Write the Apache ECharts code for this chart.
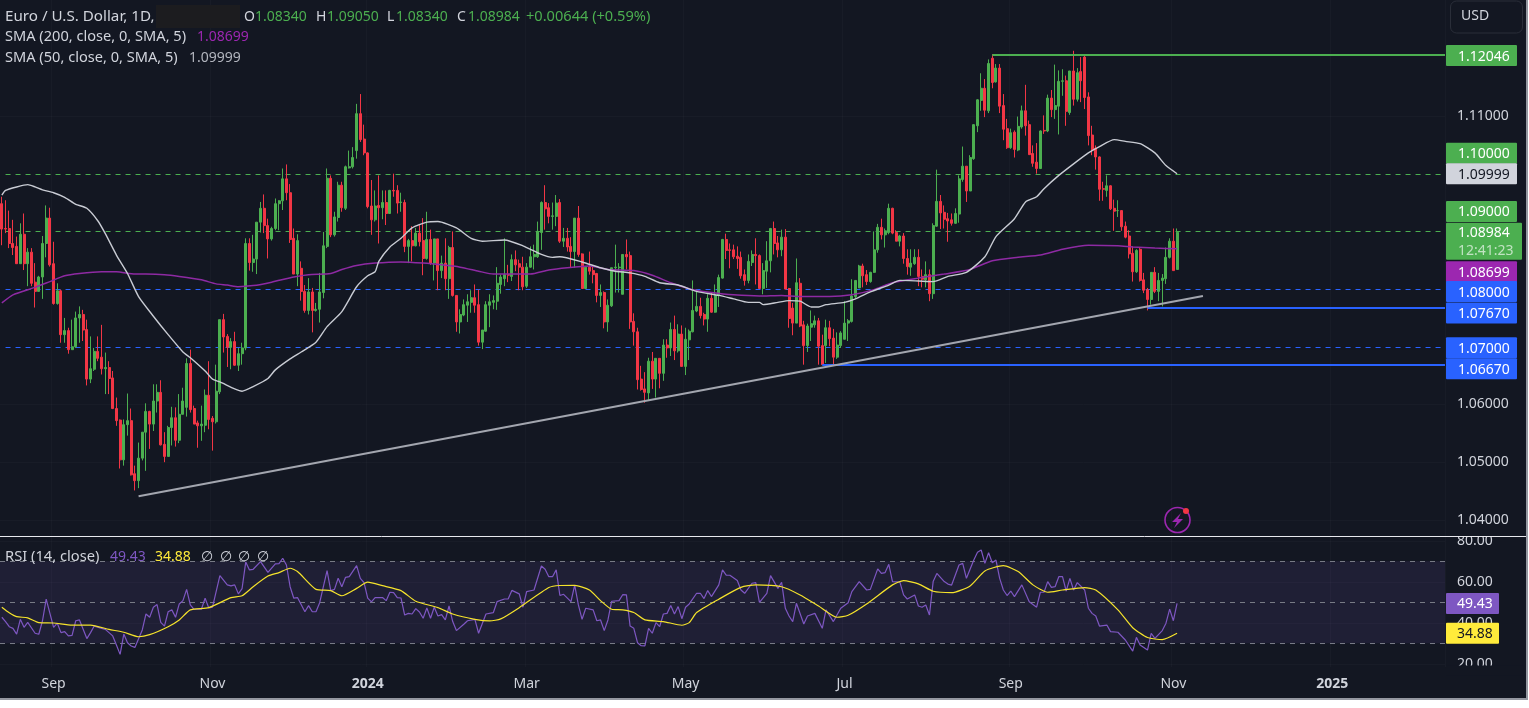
<!DOCTYPE html>
<html><head><meta charset="utf-8">
<style>
html,body{margin:0;padding:0;background:#fff;overflow:hidden}
#frame{position:absolute;left:0;top:0;width:1526px;height:698px;background:#131722;border-right:2px solid #9598a1;border-bottom:2px solid #9598a1}
#chart{width:1526px;height:698px}
</style>
<script src="https://cdn.jsdelivr.net/npm/echarts@6/dist/echarts.min.js"></script>
</head><body><div id="frame"><div id="chart"></div></div>
<script>
// rows: open, close, low, high
const candlesA = [
[1.0948,1.0904,1.0876,1.0960],[1.0905,1.0904,1.0897,1.0954],[1.0905,1.0879,1.0871,1.0936],[1.0879,1.0872,1.0859,1.0920],[1.0874,1.0844,1.0844,1.0891],[1.0844,1.0895,1.0844,1.0914],[1.0895,1.0844,1.0833,1.0931],[1.0844,1.0864,1.0805,1.0871],[1.0864,1.0810,1.0805,1.0871],[1.0812,1.0796,1.0768,1.0845],
[1.0796,1.0821,1.0796,1.0823],[1.0821,1.0879,1.0783,1.0892],[1.0879,1.0923,1.0855,1.0945],[1.0923,1.0842,1.0839,1.0941],[1.0844,1.0775,1.0773,1.0882],[1.0775,1.0797,1.0773,1.0810],[1.0797,1.0721,1.0707,1.0799],[1.0721,1.0728,1.0707,1.0750],[1.0728,1.0695,1.0688,1.0733],[1.0695,1.0700,1.0695,1.0747],
[1.0700,1.0750,1.0698,1.0761],[1.0750,1.0756,1.0707,1.0770],[1.0756,1.0729,1.0710,1.0764],[1.0730,1.0644,1.0633,1.0747],[1.0644,1.0662,1.0637,1.0718],[1.0661,1.0692,1.0658,1.0698],[1.0692,1.0680,1.0675,1.0718],[1.0682,1.0662,1.0652,1.0738],[1.0662,1.0664,1.0618,1.0690],[1.0664,1.0645,1.0618,1.0675],
[1.0646,1.0593,1.0592,1.0658],[1.0593,1.0572,1.0563,1.0612],[1.0573,1.0504,1.0489,1.0574],[1.0504,1.0565,1.0494,1.0574],[1.0565,1.0572,1.0546,1.0619],[1.0572,1.0478,1.0477,1.0593],[1.0480,1.0468,1.0451,1.0494],[1.0468,1.0507,1.0455,1.0534],[1.0507,1.0552,1.0503,1.0552],[1.0552,1.0588,1.0485,1.0602],
[1.0588,1.0566,1.0523,1.0589],[1.0566,1.0606,1.0554,1.0635],[1.0606,1.0621,1.0586,1.0635],[1.0621,1.0530,1.0529,1.0642],[1.0531,1.0510,1.0500,1.0552],[1.0510,1.0560,1.0510,1.0563],[1.0560,1.0577,1.0529,1.0596],[1.0577,1.0538,1.0527,1.0595],[1.0538,1.0583,1.0533,1.0618],[1.0583,1.0606,1.0583,1.0629],
[1.0595,1.0671,1.0579,1.0680],[1.0671,1.0591,1.0586,1.0695],[1.0593,1.0566,1.0566,1.0598],[1.0568,1.0563,1.0525,1.0572],[1.0563,1.0566,1.0537,1.0598],[1.0564,1.0616,1.0552,1.0626],[1.0616,1.0574,1.0557,1.0675],[1.0576,1.0570,1.0520,1.0580],[1.0570,1.0623,1.0567,1.0669],[1.0622,1.0747,1.0618,1.0747],
[1.0747,1.0717,1.0690,1.0757],[1.0718,1.0699,1.0665,1.0722],[1.0699,1.0709,1.0661,1.0715],[1.0709,1.0668,1.0667,1.0726],[1.0668,1.0688,1.0658,1.0698],[1.0688,1.0698,1.0669,1.0707],[1.0698,1.0879,1.0694,1.0888],[1.0879,1.0846,1.0832,1.0888],[1.0846,1.0852,1.0830,1.0894],[1.0852,1.0916,1.0826,1.0916],
[1.0916,1.0940,1.0898,1.0951],[1.0940,1.0910,1.0897,1.0964],[1.0910,1.0887,1.0853,1.0922],[1.0887,1.0905,1.0884,1.0908],[1.0905,1.0948,1.0902,1.0957],[1.0948,1.0953,1.0902,1.0954],[1.0953,1.0991,1.0937,1.1009],[1.0991,1.0967,1.0954,1.1016],[1.0967,1.0886,1.0880,1.0982],[1.0888,1.0826,1.0826,1.0905],
[1.0826,1.0884,1.0805,1.0895],[1.0836,1.0796,1.0780,1.0848],[1.0796,1.0763,1.0759,1.0807],[1.0763,1.0795,1.0756,1.0819],[1.0795,1.0763,1.0725,1.0802],[1.0763,1.0765,1.0761,1.0776],[1.0765,1.0795,1.0742,1.0828],[1.0794,1.0875,1.0784,1.0899],[1.0874,1.0992,1.0871,1.1009],[1.0992,1.0894,1.0890,1.0997],
[1.0894,1.0925,1.0891,1.0934],[1.0924,1.0980,1.0917,1.0986],[1.0980,1.0941,1.0934,1.0986],[1.0940,1.1012,1.0937,1.1014],[1.1010,1.1012,1.1009,1.1040],[1.1012,1.1028,1.1009,1.1046],[1.1040,1.1104,1.1026,1.1121],[1.1104,1.1059,1.1055,1.1138],[1.1060,1.1036,1.1032,1.1085],[1.1036,1.0943,1.0940,1.1037],
[1.0944,1.0920,1.0894,1.0989],[1.0920,1.0944,1.0917,1.0971],[1.0945,1.0941,1.0879,1.0997],[1.0941,1.0950,1.0921,1.0971],[1.0950,1.0931,1.0911,1.0971],[1.0931,1.0971,1.0931,1.0972],[1.0971,1.0970,1.0960,1.1000],[1.0971,1.0949,1.0931,1.0980]
];
const candlesB = [
[1.0950,1.0951,1.0934,1.0967],[1.0950,1.0874,1.0864,1.0955],[1.0874,1.0884,1.0845,1.0887],[1.0884,1.0875,1.0848,1.0909],[1.0875,1.0897,1.0874,1.0906],[1.0897,1.0882,1.0874,1.0911],[1.0884,1.0853,1.0824,1.0923],[1.0853,1.0886,1.0851,1.0934],[1.0886,1.0845,1.0842,1.0903],[1.0845,1.0887,1.0815,1.0887],
[1.0887,1.0832,1.0798,1.0887],[1.0832,1.0845,1.0819,1.0858],[1.0845,1.0818,1.0798,1.0888],[1.0818,1.0872,1.0783,1.0875],[1.0872,1.0789,1.0787,1.0900],[1.0789,1.0743,1.0726,1.0789],[1.0743,1.0756,1.0723,1.0765],[1.0755,1.0773,1.0753,1.0782],[1.0772,1.0778,1.0743,1.0791],[1.0777,1.0785,1.0759,1.0798],
[1.0785,1.0772,1.0759,1.0808],[1.0773,1.0708,1.0702,1.0799],[1.0708,1.0729,1.0696,1.0729],[1.0727,1.0773,1.0726,1.0779],[1.0772,1.0778,1.0734,1.0791],[1.0777,1.0780,1.0765,1.0789],[1.0779,1.0810,1.0764,1.0838],[1.0808,1.0821,1.0792,1.0825],[1.0818,1.0825,1.0805,1.0888],[1.0825,1.0824,1.0812,1.0842],
[1.0822,1.0851,1.0814,1.0860],[1.0851,1.0842,1.0831,1.0867],[1.0844,1.0838,1.0798,1.0851],[1.0838,1.0804,1.0798,1.0856],[1.0805,1.0838,1.0802,1.0845],[1.0838,1.0856,1.0837,1.0874],[1.0856,1.0860,1.0834,1.0877],[1.0856,1.0900,1.0854,1.0917],[1.0898,1.0950,1.0868,1.0952],[1.0950,1.0939,1.0903,1.0980],
[1.0941,1.0926,1.0914,1.0949],[1.0926,1.0927,1.0903,1.0950],[1.0926,1.0949,1.0909,1.0963],[1.0950,1.0883,1.0880,1.0956],[1.0883,1.0888,1.0873,1.0906],[1.0888,1.0873,1.0865,1.0906],[1.0874,1.0865,1.0837,1.0890],[1.0865,1.0923,1.0837,1.0923],[1.0923,1.0860,1.0856,1.0944],[1.0861,1.0801,1.0801,1.0862],
[1.0801,1.0838,1.0801,1.0839],[1.0838,1.0831,1.0825,1.0865],[1.0832,1.0825,1.0810,1.0839],[1.0827,1.0789,1.0777,1.0828],[1.0789,1.0794,1.0769,1.0808],[1.0794,1.0743,1.0732,1.0796],[1.0743,1.0772,1.0726,1.0782],[1.0771,1.0837,1.0769,1.0837],[1.0837,1.0838,1.0794,1.0877],[1.0837,1.0838,1.0794,1.0845],
[1.0791,1.0860,1.0791,1.0860],[1.0860,1.0856,1.0834,1.0886],[1.0858,1.0743,1.0731,1.0865],[1.0744,1.0726,1.0702,1.0758],[1.0726,1.0643,1.0626,1.0733],[1.0644,1.0626,1.0624,1.0667],[1.0627,1.0621,1.0603,1.0656],[1.0620,1.0675,1.0608,1.0681],[1.0675,1.0644,1.0627,1.0691],[1.0644,1.0680,1.0612,1.0680],
[1.0680,1.0654,1.0628,1.0680],[1.0654,1.0703,1.0641,1.0713],[1.0703,1.0698,1.0681,1.0713],[1.0698,1.0730,1.0684,1.0742],[1.0730,1.0693,1.0677,1.0754],[1.0693,1.0722,1.0690,1.0739],[1.0722,1.0666,1.0666,1.0737],[1.0666,1.0713,1.0651,1.0733],[1.0712,1.0727,1.0677,1.0730],[1.0726,1.0763,1.0725,1.0815],
[1.0762,1.0770,1.0760,1.0799],[1.0770,1.0754,1.0749,1.0785],[1.0756,1.0748,1.0737,1.0759],[1.0748,1.0784,1.0726,1.0791],[1.0784,1.0760,1.0759,1.0794],[1.0760,1.0789,1.0759,1.0808],[1.0789,1.0820,1.0769,1.0825],[1.0819,1.0886,1.0818,1.0887],[1.0886,1.0867,1.0852,1.0896],[1.0868,1.0867,1.0836,1.0879],
[1.0868,1.0856,1.0852,1.0877],[1.0857,1.0853,1.0835,1.0874],[1.0855,1.0823,1.0818,1.0865],[1.0825,1.0815,1.0806,1.0834],[1.0815,1.0848,1.0810,1.0860],[1.0846,1.0860,1.0840,1.0867],[1.0860,1.0858,1.0808,1.0888],[1.0858,1.0801,1.0801,1.0860],[1.0801,1.0832,1.0791,1.0845],[1.0831,1.0849,1.0802,1.0883],
[1.0849,1.0905,1.0829,1.0906],[1.0905,1.0879,1.0860,1.0917],[1.0880,1.0868,1.0855,1.0892],[1.0868,1.0890,1.0857,1.0903],[1.0890,1.0800,1.0800,1.0904],[1.0801,1.0749,1.0733,1.0802],[1.0767,1.0741,1.0720,1.0776],[1.0741,1.0811,1.0741,1.0853]
];
const candlesC = [
[1.0810,1.0736,1.0734,1.0819],[1.0738,1.0702,1.0669,1.0745],[1.0702,1.0736,1.0691,1.0740],[1.0734,1.0740,1.0710,1.0763],[1.0738,1.0745,1.0733,1.0754],[1.0745,1.0701,1.0669,1.0750],[1.0702,1.0669,1.0669,1.0721],[1.0702,1.0733,1.0672,1.0747],[1.0733,1.0714,1.0701,1.0745],[1.0715,1.0682,1.0668,1.0731],
[1.0682,1.0703,1.0679,1.0725],[1.0702,1.0724,1.0698,1.0727],[1.0713,1.0741,1.0713,1.0779],[1.0741,1.0745,1.0710,1.0748],[1.0744,1.0788,1.0742,1.0817],[1.0787,1.0815,1.0784,1.0815],[1.0802,1.0840,1.0802,1.0842],[1.0840,1.0823,1.0803,1.0844],[1.0825,1.0813,1.0807,1.0833],[1.0813,1.0829,1.0811,1.0830],
[1.0829,1.0868,1.0828,1.0900],[1.0868,1.0907,1.0863,1.0913],[1.0907,1.0894,1.0886,1.0922],[1.0894,1.0901,1.0872,1.0905],[1.0898,1.0940,1.0895,1.0948],[1.0940,1.0897,1.0895,1.0941],[1.0898,1.0883,1.0883,1.0902],[1.0883,1.0892,1.0874,1.0894],[1.0892,1.0853,1.0844,1.0897],[1.0853,1.0839,1.0825,1.0869],
[1.0838,1.0845,1.0823,1.0869],[1.0844,1.0855,1.0842,1.0869],[1.0855,1.0822,1.0805,1.0869],[1.0822,1.0817,1.0803,1.0834],[1.0816,1.0825,1.0803,1.0848],[1.0825,1.0792,1.0779,1.0834],[1.0792,1.0910,1.0783,1.0914],[1.0909,1.0952,1.0908,1.1007],[1.0952,1.0932,1.0904,1.0963],[1.0933,1.0921,1.0905,1.0945],
[1.0922,1.0918,1.0882,1.0932],[1.0920,1.0914,1.0910,1.0931],[1.0914,1.0931,1.0913,1.0940],[1.0930,1.0991,1.0915,1.0997],[1.0990,1.1013,1.0986,1.1047],[1.1013,1.0970,1.0951,1.1013],[1.0970,1.1028,1.0970,1.1032],[1.1026,1.1085,1.1024,1.1086],[1.1083,1.1128,1.1072,1.1129],[1.1127,1.1148,1.1109,1.1174],
[1.1148,1.1110,1.1098,1.1164],[1.1109,1.1191,1.1105,1.1198],[1.1200,1.1158,1.1148,1.1207],[1.1159,1.1183,1.1158,1.1190],[1.1183,1.1117,1.1105,1.1190],[1.1118,1.1077,1.1058,1.1138],[1.1078,1.1045,1.1043,1.1095],[1.1045,1.1071,1.1043,1.1078],[1.1072,1.1042,1.1028,1.1075],[1.1041,1.1082,1.1039,1.1099],
[1.1081,1.1109,1.1078,1.1118],[1.1109,1.1083,1.1066,1.1154],[1.1085,1.1033,1.1033,1.1092],[1.1035,1.1018,1.1012,1.1049],[1.1020,1.1009,1.1000,1.1053],[1.1009,1.1074,1.1008,1.1075],[1.1075,1.1074,1.1069,1.1101],[1.1074,1.1131,1.1072,1.1137],[1.1131,1.1111,1.1098,1.1145],[1.1111,1.1118,1.1095,1.1189],
[1.1117,1.1160,1.1068,1.1179],[1.1160,1.1161,1.1135,1.1181],[1.1161,1.1108,1.1083,1.1170],[1.1106,1.1178,1.1102,1.1178],[1.1178,1.1129,1.1118,1.1213],[1.1129,1.1175,1.1125,1.1183],[1.1177,1.1161,1.1124,1.1202],[1.1202,1.1132,1.1112,1.1207],[1.1133,1.1066,1.1049,1.1141],[1.1067,1.1041,1.1032,1.1083],
[1.1044,1.1029,1.1007,1.1049],[1.1029,1.0973,1.0953,1.1030],[1.0974,1.0973,1.0953,1.0986],[1.0971,1.0979,1.0960,1.0997],[1.0979,1.0939,1.0937,1.0980],[1.0940,1.0935,1.0901,1.0955],[1.0936,1.0936,1.0925,1.0954],[1.0936,1.0908,1.0901,1.0937],[1.0909,1.0890,1.0888,1.0917],[1.0892,1.0861,1.0853,1.0902],
[1.0862,1.0830,1.0813,1.0874],[1.0830,1.0867,1.0828,1.0869],[1.0869,1.0815,1.0813,1.0871],[1.0816,1.0798,1.0793,1.0828],[1.0799,1.0782,1.0763,1.0802],[1.0782,1.0829,1.0773,1.0829],[1.0829,1.0796,1.0793,1.0838],[1.0796,1.0815,1.0779,1.0828],[1.0815,1.0819,1.0770,1.0826],[1.0818,1.0855,1.0809,1.0872],
[1.0855,1.0883,1.0853,1.0888],[1.0883,1.0832,1.0832,1.0905],[1.0834,1.08984,1.0834,1.0905]
];
const sma50Points = [[0,1.0963],[1,1.0971],[4,1.0977],[7,1.0981],[9,1.0977],[11,1.0972],[14,1.0967],[17,1.0959],[20,1.0947],[23,1.0940],[26,1.0918],[28,1.0896],[31,1.0859],[34,1.0827],[37,1.0787],[41,1.0753],[45,1.0721],[49,1.0691],[51,1.0681],[55,1.0658],[57,1.0644],[59,1.0639],[63,1.0627],[65,1.0623],[68,1.0631],[72,1.0645],[74,1.0660],[78,1.0679],[81,1.0691],[85,1.0708],[88,1.0735],[92,1.0761],[96,1.0804],[99,1.0823],[101,1.0830],[102,1.0848],[105,1.0873],[108,1.0888],[111,1.0906],[115,1.0916],[118,1.0917],[123,1.0906],[127,1.0888],[130,1.0883],[136,1.0885],[141,1.0875],[146,1.0860],[149,1.0855],[151,1.0856],[157,1.0847],[162,1.0837],[166,1.0831],[170,1.0828],[174,1.0822],[178,1.0811],[183,1.0807],[188,1.0796],[194,1.0789],[198,1.0783],[202,1.0777],[205,1.0777],[206,1.0773],[210,1.0777],[213,1.0780],[216,1.0779],[219,1.0769],[221,1.0769],[223,1.0773],[228,1.0777],[231,1.0783],[235,1.0795],[240,1.0807],[243,1.0815],[248,1.0814],[252,1.0813],[256,1.0822],[261,1.0829],[266,1.0856],[269,1.0891],[274,1.0922],[277,1.0951],[280,1.0960],[282,1.0974],[286,1.0997],[290,1.1017],[294,1.1036],[297,1.1047],[301,1.1059],[304,1.1056],[308,1.1052],[312,1.1036],[315,1.1014],[318,1.09999]];
const sma200Points = [[0,1.0776],[3,1.0790],[9,1.0803],[13,1.0813],[17,1.0823],[21,1.0827],[27,1.0830],[31,1.0830],[36,1.0826],[39,1.0826],[44,1.0825],[48,1.0822],[54,1.0816],[58,1.0809],[61,1.0807],[64,1.0804],[68,1.0806],[73,1.0812],[79,1.0821],[83,1.0825],[89,1.0827],[92,1.0834],[96,1.0841],[101,1.0845],[108,1.0847],[114,1.0845],[119,1.0842],[124,1.0838],[129,1.0831],[133,1.0826],[138,1.0826],[143,1.0826],[148,1.0833],[153,1.0837],[159,1.0840],[164,1.0834],[171,1.0832],[176,1.0824],[181,1.0811],[187,1.0799],[192,1.0794],[198,1.0790],[205,1.0788],[211,1.0789],[216,1.0787],[224,1.0787],[230,1.0790],[236,1.0799],[241,1.0811],[248,1.0819],[255,1.0826],[262,1.0834],[268,1.0849],[275,1.0855],[281,1.0859],[287,1.0869],[294,1.0876],[302,1.0875],[306,1.0873],[312,1.0871],[318,1.08699]];
const rsiPoints = [[0,42.7],[1,40.6],[2,38.1],[3,37.3],[4,34.5],[5,41.7],[6,37.8],[7,40.2],[9,34.9],[10,34.4],[11,41.0],[12,51.5],[14,37.8],[15,39.8],[16,35.2],[17,35.7],[18,33.6],[19,33.9],[20,41.0],[21,41.4],[23,32.3],[24,35.2],[25,38.4],[27,37.3],[28,36.8],[30,33.6],[31,29.2],[32,24.6],[33,34.5],[34,30.3],[35,28.7],[36,28.0],[38,36.5],[39,44.3],[40,42.7],[41,47.6],[42,48.9],[43,40.2],[44,38.4],[45,45.4],[46,46.3],[47,42.7],[48,49.2],[49,50.8],[50,56.3],[51,48.7],[52,46.6],[54,46.6],[55,52.0],[56,47.2],[57,47.6],[59,63.0],[61,58.5],[62,58.0],[63,58.5],[64,54.1],[65,56.7],[66,69.7],[67,65.8],[68,66.1],[70,69.8],[72,64.6],[74,68.7],[75,68.9],[76,71.5],[77,68.2],[78,57.6],[79,52.0],[80,52.3],[82,45.4],[83,48.4],[84,45.4],[85,45.4],[86,49.8],[88,65.4],[89,55.7],[90,56.3],[91,61.7],[92,57.6],[93,62.2],[94,62.5],[96,67.9],[97,61.7],[98,59.6],[99,52.0],[100,50.2],[101,52.3],[102,52.3],[103,52.3],[104,50.8],[105,54.9],[106,54.7],[107,52.3],[108,52.1],[109,43.8],[110,44.6],[111,44.3],[112,46.9],[113,45.3],[114,42.2],[115,47.2],[116,42.2],[117,47.6],[118,43.3],[119,44.0],[120,41.4],[121,48.2],[122,40.6],[123,36.2],[125,39.3],[126,41.0],[128,41.7],[129,34.9],[131,44.3],[133,45.0],[134,50.3],[136,51.6],[137,51.6],[138,55.8],[140,54.1],[141,47.6],[142,55.2],[144,56.0],[146,67.7],[147,66.1],[148,62.5],[149,62.5],[150,65.8],[151,53.3],[152,53.9],[154,50.3],[155,58.4],[156,48.7],[157,41.7],[158,47.1],[160,46.3],[161,41.0],[162,41.4],[163,36.2],[164,41.4],[165,50.5],[167,50.8],[168,53.7],[169,53.6],[170,38.4],[171,37.3],[172,30.3],[173,28.8],[174,28.7],[175,37.3],[176,34.9],[177,40.1],[178,38.1],[179,44.3],[180,44.6],[181,48.4],[182,44.3],[183,47.9],[184,42.0],[185,47.6],[186,49.2],[188,54.4],[189,54.4],[190,51.8],[191,55.7],[192,52.8],[194,58.5],[195,65.8],[196,63.3],[197,63.2],[199,60.6],[200,56.0],[201,54.4],[203,59.3],[204,59.6],[205,50.0],[207,54.4],[208,63.0],[210,56.8],[211,59.7],[212,47.1],[213,43.3],[214,40.6],[215,49.5],[217,39.4],[218,43.3],[220,44.6],[222,37.3],[223,46.3],[225,40.6],[227,47.1],[229,49.8],[230,55.2],[232,60.1],[234,56.0],[235,56.3],[237,66.3],[238,64.1],[239,64.5],[240,68.5],[241,60.1],[243,59.8],[244,53.6],[245,51.6],[247,53.6],[248,48.2],[249,47.6],[250,48.7],[251,43.8],[252,60.1],[253,64.1],[255,60.1],[256,58.9],[257,58.4],[259,68.2],[260,69.0],[261,61.7],[263,70.6],[264,74.4],[265,75.5],[266,69.0],[267,74.2],[268,69.3],[269,70.6],[270,61.7],[271,56.0],[272,53.3],[273,55.5],[274,52.8],[276,58.5],[278,50.3],[280,47.6],[281,54.9],[282,54.9],[283,60.1],[284,57.3],[285,57.6],[286,62.5],[287,62.5],[288,55.5],[289,61.7],[290,56.0],[291,59.6],[293,56.0],[294,47.1],[295,44.6],[296,43.3],[297,38.4],[299,38.9],[300,35.7],[302,35.4],[304,31.6],[306,26.2],[307,32.9],[308,29.2],[310,26.7],[311,34.9],[312,32.4],[314,36.2],[315,39.8],[316,46.7],[317,41.0],[318,49.43]];
const rsiMaPoints = [[0,47.6],[2,44.9],[4,43.0],[7,42.4],[10,40.1],[14,39.9],[19,38.9],[24,38.9],[29,36.8],[33,35.4],[37,33.2],[40,34.2],[45,38.1],[48,41.4],[51,46.3],[56,47.4],[62,52.3],[65,53.2],[68,57.6],[72,62.8],[75,64.5],[78,66.6],[80,65.0],[85,56.3],[89,55.7],[92,53.2],[96,56.8],[99,59.8],[103,58.1],[108,55.7],[112,50.5],[118,47.4],[122,44.3],[128,41.7],[132,40.9],[135,41.9],[140,47.4],[148,57.2],[151,58.2],[155,58.3],[159,56.0],[162,50.8],[165,46.6],[168,46.3],[171,45.0],[174,41.4],[179,40.6],[184,38.8],[186,40.1],[188,45.0],[194,51.5],[200,57.3],[204,58.5],[211,57.6],[216,53.6],[221,48.2],[226,42.7],[229,43.7],[234,49.2],[241,58.5],[244,60.6],[248,59.0],[252,55.4],[257,54.7],[262,58.0],[266,65.3],[271,67.9],[275,65.0],[279,58.5],[283,54.9],[287,56.0],[293,57.2],[296,56.0],[302,46.3],[306,37.6],[310,32.8],[314,31.8],[318,34.88]];
const trendlinePoints = [[37,1.0441],[325,1.0788]];
const resistanceLine = [[268,1.12046,390]];
const supportLineA = [[310,1.0767,390]];
const supportLineB = [[222,1.0667,390]];
const greenLevels = [[1,1.10,390],[1,1.09,390]];
const blueLevels = [[1,1.08,390],[1,1.07,390]];
const rsiLevels = [70,50,30];
const priceTicks = [1.04,1.05,1.06,1.11];
const rsiTicks = [20,40,60,80];
const timeTickLabels = ['Sep','Nov','2024','Mar','May','Jul','Sep','Nov','2025'];
const timeTickSlots = [14,57,99,142,185,228,273,317,360];
const slotCount = 391;
const priceTagValues = [1.12046,1.10,1.09999,1.09,1.08984,1.08699,1.08,1.0767,1.07,1.0667];
const priceTagFills = ['#4caf50','#4caf50','#d1d4dc','#4caf50','#4caf50','#9c27b0','#2962ff','#2962ff','#2962ff','#2962ff'];
const priceTagShift = [0,-20.5,0,-20,9,23,2.5,5,1,3];
const rsiTagValues = [49.43,34.88];
const rsiTagFills = ['#7e57c2','#ffeb3b'];
const rsiTagDecimals = 2;

const candles = candlesA.concat(candlesB, candlesC);
const FONT = '"Noto Sans", sans-serif';
const TXT = '#d1d4dc';
const slots = Array.from({length: slotCount}, (_, i) => {
  const k = timeTickSlots.indexOf(i);
  return k >= 0 ? timeTickLabels[k] : '';
});
const tickShown = i => timeTickSlots.indexOf(i) >= 0;

function lineSeries(data, color, width, extra) {
  return Object.assign({type:'line', data, showSymbol:false, symbol:'none', silent:true, animation:false,
    lineStyle:{color, width}, xAxisIndex:0, yAxisIndex:0, z:3}, extra || {});
}
// horizontal levels drawn on whole pixel rows: [from slot, price, to slot]
function hLineSeries(data, color, width, z) {
  return {type:'custom', xAxisIndex:0, yAxisIndex:0, silent:true, z, clip:false, data, encode:{x:[0,2], y:1},
    renderItem(params, api) {
      const a = api.coord([api.value(0), api.value(1)]);
      const b = api.coord([api.value(2), api.value(1)]);
      const y = width === 1 ? Math.round(a[1]) + 0.5 : Math.floor(a[1]);
      return {type:'line', shape:{x1:a[0], y1:y, x2:width === 1 ? b[0] : 1445, y2:y},
        style:{stroke:color, lineWidth:width, lineDash:width === 1 ? [5,5] : null}};
    }};
}
function priceTag(params, api) {
  const i = params.dataIndex, v = api.value(1);
  const y0 = api.coord([0, v])[1] + priceTagShift[i];
  const ink = priceTagFills[i] === '#d1d4dc' ? '#131722' : '#ffffff';
  const label = priceTagValues[i].toFixed(5);
  const font = '14px ' + FONT;
  if (i === 4) {
    return {type:'group', children:[
      {type:'rect', shape:{x:1446, y:y0-18.5, width:76, height:37, r:1}, style:{fill:priceTagFills[i]}},
      {type:'text', x:1458, y:y0-8, style:{text:label, fill:ink, font, verticalAlign:'middle'}},
      {type:'text', x:1458, y:y0+10, style:{text:'12:41:23', fill:'rgba(255,255,255,0.65)', font, verticalAlign:'middle'}}
    ]};
  }
  return {type:'group', children:[
    {type:'rect', shape:{x:1446, y:y0-10.5, width:71, height:21, r:1}, style:{fill:priceTagFills[i]}},
    {type:'text', x:1458, y:y0+1, style:{text:label, fill:ink, font, verticalAlign:'middle'}}
  ]};
}
function rsiTag(params, api) {
  const i = params.dataIndex, v = api.value(1);
  const y0 = api.coord([0, v])[1];
  const ink = i === 1 ? '#131722' : '#ffffff';
  return {type:'group', children:[
    {type:'rect', shape:{x:1446, y:y0-10.5, width:53, height:21, r:1}, style:{fill:rsiTagFills[i]}},
    {type:'text', x:1457, y:y0+1, style:{text:rsiTagValues[i].toFixed(rsiTagDecimals), fill:ink, font:'14px '+FONT, verticalAlign:'middle'}}
  ]};
}
function headText(x, y, text, fill, size, extra) {
  return Object.assign({type:'text', x, y:y+1, z:50, silent:true,
    style:{text, fill, font:(size || 14)+'px '+FONT, verticalAlign:'middle'}}, extra || {});
}

const faint = 'rgba(255,255,255,0.025)';
const chart = echarts.init(document.getElementById('chart'), null, {renderer:'canvas'});
chart.setOption({
  animation:false,
  backgroundColor:'#131722',
  grid:[
    {left:0, top:0, width:1445, height:536, containLabel:false},
    {left:0, top:537, width:1445, height:130, containLabel:false}
  ],
  xAxis:[
    {type:'category', gridIndex:0, data:slots, boundaryGap:true, axisLine:{show:false}, axisTick:{show:false}, axisLabel:{show:false},
     splitLine:{show:true, interval:tickShown, lineStyle:{color:faint}}},
    {type:'category', gridIndex:1, data:slots, boundaryGap:true, axisLine:{show:false}, axisTick:{show:false},
     splitLine:{show:true, interval:tickShown, lineStyle:{color:faint}},
     axisLabel:{show:true, interval:tickShown, margin:10, hideOverlap:false, color:TXT, fontFamily:FONT, fontSize:14,
       formatter:v => /^\d{4}$/.test(v) ? '{b|'+v+'}' : v,
       rich:{b:{fontWeight:'bold', color:TXT, fontFamily:FONT, fontSize:14}}}}
  ],
  yAxis:[
    {type:'value', gridIndex:0, position:'right', min:1.037206, max:1.1301, axisLine:{show:false},
     axisTick:{show:false, customValues:priceTicks}, splitLine:{show:true, lineStyle:{color:faint}},
     axisLabel:{customValues:priceTicks, inside:false, margin:12, padding:[2,0,0,0], color:TXT, fontFamily:FONT, fontSize:14, formatter:v => v.toFixed(5)}},
    {type:'value', gridIndex:1, position:'right', min:18.44, max:81.85, axisLine:{show:false},
     axisTick:{show:false, customValues:rsiTicks}, splitLine:{show:true, lineStyle:{color:faint}},
     axisLabel:{customValues:rsiTicks, margin:12, padding:[2,0,0,0], color:TXT, fontFamily:FONT, fontSize:14, formatter:v => v.toFixed(2)}}
  ],
  series:[
    hLineSeries(greenLevels, '#4caf50', 1, 1),
    hLineSeries(blueLevels, '#2962ff', 1, 1),
    {type:'candlestick', xAxisIndex:0, yAxisIndex:0, data:candles, barWidth:2.5, silent:true, z:2, clip:true,
     itemStyle:{color:'#4caf50', color0:'#f23645', borderColor:'#4caf50', borderColor0:'#f23645', borderWidth:1}},
    lineSeries(sma200Points, '#8e2aa3', 1.5, {smooth:0.2, z:3}),
    lineSeries(sma50Points, '#c9ccd4', 1.4, {smooth:0.2, z:3}),
    lineSeries(trendlinePoints, '#a3a6af', 2, {z:4}),
    hLineSeries(resistanceLine, '#4caf50', 2, 4),
    hLineSeries(supportLineA, '#2962ff', 2, 4),
    hLineSeries(supportLineB, '#2962ff', 2, 4),
    {type:'custom', xAxisIndex:0, yAxisIndex:0, renderItem:priceTag, silent:true, z:20, clip:false,
     data:priceTagValues.map(v => [0, v]), encode:{x:0, y:1}},
    {type:'line', xAxisIndex:1, yAxisIndex:1, data:rsiPoints, symbol:'none', showSymbol:false, silent:true, z:3,
     lineStyle:{color:'#7e57c2', width:1.2},
     markArea:{silent:true, z:1, itemStyle:{color:'rgba(126,87,194,0.12)'}, data:[[{yAxis:rsiLevels[0]},{yAxis:rsiLevels[2]}]]},
     markLine:{silent:true, symbol:'none', z:2, label:{show:false}, lineStyle:{color:'#787b86', width:1, type:[5,5]},
       data:rsiLevels.map(l => ({yAxis:l}))}},
    {type:'line', xAxisIndex:1, yAxisIndex:1, data:rsiMaPoints, symbol:'none', showSymbol:false, silent:true, smooth:0.2, z:4,
     lineStyle:{color:'#f5e32b', width:1.2}},
    {type:'custom', xAxisIndex:1, yAxisIndex:1, renderItem:rsiTag, silent:true, z:20, clip:false,
     data:rsiTagValues.map(v => [0, v]), encode:{x:0, y:1}}
  ],
  graphic:[
    {type:'rect', z:40, silent:true, shape:{x:1446, y:530, width:78, height:6}, style:{fill:'#131722'}},
    {type:'rect', z:40, silent:true, shape:{x:1446, y:665.5, width:78, height:10}, style:{fill:'#131722'}},
    {type:'line', z:41, silent:true, shape:{x1:0, y1:536.5, x2:1526, y2:536.5}, style:{stroke:'#e8e9ee', lineWidth:1}},
    headText(5, 16, 'Euro / U.S. Dollar, 1D,', TXT, 15.2),
    {type:'rect', z:49, silent:true, shape:{x:156, y:5, width:84, height:23}, style:{fill:'#1c1c1f'}},
    headText(244, 16, 'O', TXT), headText(255, 16, '1.08340', '#4caf50'),
    headText(316, 16, 'H', TXT), headText(327, 16, '1.09050', '#4caf50'),
    headText(387, 16, 'L', TXT), headText(396, 16, '1.08340', '#4caf50'),
    headText(457, 16, 'C', TXT), headText(468, 16, '1.08984', '#4caf50'),
    headText(526, 16, '+0.00644 (+0.59%)', '#4caf50', 14.6),
    headText(5, 36, 'SMA (200, close, 0, SMA, 5)', TXT, 14.6), headText(197, 36, '1.08699', '#9c27b0'),
    headText(5, 57, 'SMA (50, close, 0, SMA, 5)', TXT, 14.6), headText(189, 57, '1.09999', '#b2b5be'),
    headText(5, 556, 'RSI (14, close)', TXT, 14.7), headText(110, 556, '49.43', '#7e57c2'), headText(155, 556, '34.88', '#ffeb3b'),
    headText(201, 556, '∅', TXT), headText(220, 556, '∅', TXT), headText(238, 556, '∅', TXT), headText(257, 556, '∅', TXT),
    {type:'rect', z:45, silent:true, shape:{x:1450.5, y:1, width:72, height:32, r:6}, style:{fill:'#131722', stroke:'#2a2e39', lineWidth:1}},
    headText(1461, 15, 'USD', TXT, 14, {z:46}),
    {type:'circle', z:45, silent:true, shape:{cx:1177.5, cy:520, r:12.5}, style:{fill:'none', stroke:'#9c27b0', lineWidth:1.6}},
    {type:'polygon', z:46, silent:true, shape:{points:[[1181,513],[1172,522],[1177,522],[1174,528],[1183,519],[1178,519]]}, style:{fill:'#9c27b0'}},
    {type:'circle', z:47, silent:true, shape:{cx:1186, cy:511, r:3}, style:{fill:'#f23645'}}
  ]
});
</script></body></html>
